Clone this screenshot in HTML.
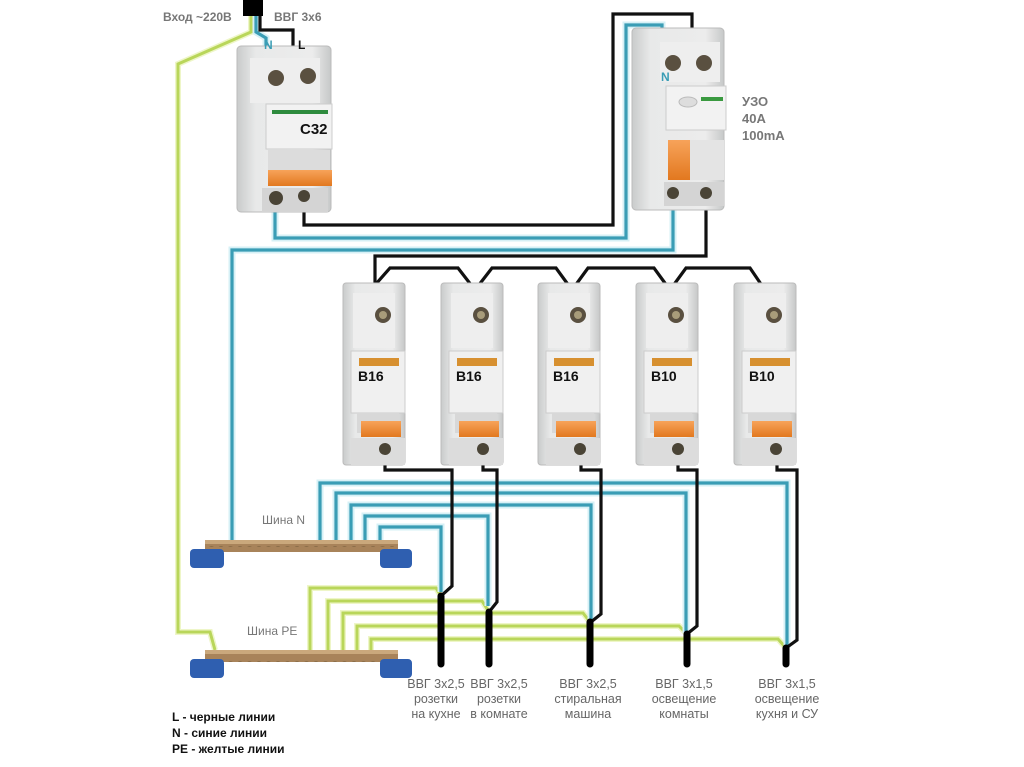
<!DOCTYPE html>
<html><head><meta charset="utf-8"><style>
body{margin:0;background:#fff}
svg{display:block}
text{font-family:"Liberation Sans",sans-serif}
</style></head><body>
<svg width="1024" height="767" viewBox="0 0 1024 767" xmlns="http://www.w3.org/2000/svg">
<defs>
<linearGradient id="bd" x1="0" x2="1"><stop offset="0" stop-color="#c9cbcb"/><stop offset=".2" stop-color="#e8e9e9"/><stop offset=".8" stop-color="#ececec"/><stop offset="1" stop-color="#c6c8c8"/></linearGradient>
<linearGradient id="or" x1="0" y1="0" x2="0" y2="1"><stop offset="0" stop-color="#f7a35a"/><stop offset="1" stop-color="#e2781f"/></linearGradient>
<g id="brk">
<rect x="0" y="0" width="62" height="182" rx="3" fill="url(#bd)" stroke="#bbb"/>
<rect x="10" y="10" width="42" height="55" fill="#eeeeee"/>
<circle cx="40" cy="32" r="8" fill="#5a5040"/><circle cx="40" cy="32" r="4" fill="#a89c7a"/>
<rect x="8" y="68" width="54" height="62" fill="#f0f0f0" stroke="#ccc"/>
<rect x="16" y="75" width="40" height="8" fill="#d79030"/>
<rect x="14" y="130" width="42" height="20" fill="#d8d8d8"/>
<rect x="18" y="138" width="40" height="16" fill="url(#or)"/>
<rect x="8" y="155" width="54" height="27" fill="#dcdcdc"/>
<circle cx="42" cy="166" r="6" fill="#4a4436"/>
</g>
<pattern id="scr" x="207" y="0" width="9.5" height="20" patternUnits="userSpaceOnUse">
<circle cx="4.5" cy="4" r="3" fill="#8a6d48"/>
</pattern>
</defs>

<g fill="none" stroke-linejoin="miter">
<path d="M251 14 L251 32 L178 64 L178 632 L210 632 L215 650" stroke="#eef6c8" stroke-width="6"/>
<path d="M251 14 L251 32 L178 64 L178 632 L210 632 L215 650" stroke="#b9d65a" stroke-width="3"/>
<g stroke="#eef6c8" stroke-width="6">
<path d="M310 650 L310 588 L436 588 L441 596"/>
<path d="M328 650 L328 601 L482 601 L489 612"/>
<path d="M343 650 L343 613 L583 613 L590 622"/>
<path d="M357 650 L357 626 L679 626 L687 634"/>
<path d="M371 650 L371 639 L778 639 L786 648"/>
</g>
<g stroke="#b9d65a" stroke-width="3">
<path d="M310 650 L310 588 L436 588 L441 596"/>
<path d="M328 650 L328 601 L482 601 L489 612"/>
<path d="M343 650 L343 613 L583 613 L590 622"/>
<path d="M357 650 L357 626 L679 626 L687 634"/>
<path d="M371 650 L371 639 L778 639 L786 648"/>
</g>
<g stroke="#d6f0f6" stroke-width="7">
<path d="M256 14 L256 32 L266 38 L266 50"/>
<path d="M275 200 L275 238 L626 238 L626 25 L662 25 L662 45"/>
<path d="M673 195 L673 250 L232 250 L232 542"/>
<path d="M320 542 L320 483 L787 483 L787 648"/>
<path d="M336 542 L336 493 L686 493 L686 633"/>
<path d="M351 542 L351 505 L591 505 L591 620"/>
<path d="M365 542 L365 516 L488 516 L488 606"/>
<path d="M380 542 L380 527 L441 527 L441 592"/>
</g>
<g stroke="#3a9db5" stroke-width="3.2">
<path d="M256 14 L256 32 L266 38 L266 50"/>
<path d="M275 200 L275 238 L626 238 L626 25 L662 25 L662 45"/>
<path d="M673 195 L673 250 L232 250 L232 542"/>
<path d="M320 542 L320 483 L787 483 L787 648"/>
<path d="M336 542 L336 493 L686 493 L686 633"/>
<path d="M351 542 L351 505 L591 505 L591 620"/>
<path d="M365 542 L365 516 L488 516 L488 606"/>
<path d="M380 542 L380 527 L441 527 L441 592"/>
</g>
<g stroke="#111" stroke-width="3.2">
<path d="M260 14 L260 30 L293 30 L293 52"/>
<path d="M304 200 L304 225 L613 225 L613 14 L692 14 L692 40"/>
<path d="M706 195 L706 256 L375 256 L375 268 L375 285"/>
<path d="M375 285 L390 268 L458 268 L475 290 L492 268 L556 268 L572 290 L588 268 L654 268 L670 290 L686 268 L750 268 L765 290"/>
<path d="M385 460 L385 470 L452 470 L452 586 L441 596"/>
<path d="M483 460 L483 470 L497 470 L497 602 L489 612"/>
<path d="M581 460 L581 470 L601 470 L601 614 L591 622"/>
<path d="M678 460 L678 470 L697 470 L697 626 L687 634"/>
<path d="M777 460 L777 470 L797 470 L797 640 L786 648"/>
</g>
<g stroke="#000" stroke-width="7" stroke-linecap="round">
<path d="M441 596 L441 664"/><path d="M489 612 L489 664"/><path d="M590 622 L590 664"/><path d="M687 634 L687 664"/><path d="M786 648 L786 664"/>
</g>
</g>
<rect x="243" y="0" width="20" height="16" fill="#000"/>

<g>
<rect x="237" y="46" width="94" height="166" rx="4" fill="url(#bd)" stroke="#bbb"/>
<rect x="250" y="58" width="70" height="45" fill="#eee"/>
<circle cx="276" cy="78" r="8" fill="#5a5040"/><circle cx="308" cy="76" r="8" fill="#5a5040"/>
<rect x="266" y="104" width="66" height="45" fill="#f2f2f2" stroke="#ccc"/>
<rect x="272" y="110" width="56" height="4" fill="#2e8b3e"/>
<text x="300" y="134" font-size="15" font-weight="bold" fill="#111">C32</text>
<rect x="268" y="150" width="62" height="22" fill="#dcdcdc"/>
<rect x="268" y="170" width="64" height="16" fill="url(#or)"/>
<rect x="262" y="188" width="66" height="24" fill="#d4d4d4"/>
<circle cx="276" cy="198" r="7" fill="#4a4436"/><circle cx="304" cy="196" r="6" fill="#4a4436"/>
</g>
<g>
<rect x="632" y="28" width="92" height="182" rx="4" fill="url(#bd)" stroke="#bbb"/>
<rect x="660" y="42" width="60" height="40" fill="#eee"/>
<circle cx="673" cy="63" r="8" fill="#5a5040"/><circle cx="704" cy="63" r="8" fill="#5a5040"/>
<rect x="666" y="86" width="60" height="44" fill="#f2f2f2" stroke="#ccc"/>
<ellipse cx="688" cy="102" rx="9" ry="5" fill="#ddd" stroke="#bbb"/>
<rect x="701" y="97" width="22" height="4" fill="#3a9a40"/>
<rect x="668" y="140" width="22" height="40" fill="url(#or)"/>
<rect x="690" y="140" width="34" height="40" fill="#e4e4e4"/>
<rect x="664" y="182" width="60" height="24" fill="#d4d4d4"/>
<circle cx="673" cy="193" r="6" fill="#4a4436"/><circle cx="706" cy="193" r="6" fill="#4a4436"/>
</g>
<use href="#brk" x="343" y="283"/>
<use href="#brk" x="441" y="283"/>
<use href="#brk" x="538" y="283"/>
<use href="#brk" x="636" y="283"/>
<use href="#brk" x="734" y="283"/>
<g font-size="14" font-weight="bold" fill="#111">
<text x="358" y="381">B16</text><text x="456" y="381">B16</text><text x="553" y="381">B16</text><text x="651" y="381">B10</text><text x="749" y="381">B10</text>
</g>

<g>
<rect x="205" y="540" width="193" height="12" fill="#a8835a"/>
<rect x="205" y="540" width="193" height="4" fill="#caa87c"/>
<rect x="207" y="546" width="188" height="6" fill="url(#scr)"/>
<rect x="190" y="549" width="34" height="19" rx="4" fill="#2f5fb0"/>
<rect x="380" y="549" width="32" height="19" rx="4" fill="#2f5fb0"/>
<rect x="205" y="650" width="193" height="12" fill="#a8835a"/>
<rect x="205" y="650" width="193" height="4" fill="#caa87c"/>
<rect x="207" y="656" width="188" height="6" fill="url(#scr)"/>
<rect x="190" y="659" width="34" height="19" rx="4" fill="#2f5fb0"/>
<rect x="380" y="659" width="32" height="19" rx="4" fill="#2f5fb0"/>
</g>

<g font-size="12" font-weight="bold" fill="#777">
<text x="163" y="21">Вход ~220В</text>
<text x="274" y="21">ВВГ 3х6</text>
<text x="262" y="524" font-weight="normal">Шина N</text>
<text x="247" y="635" font-weight="normal">Шина PE</text>
<text x="742" y="106" font-size="13">УЗО</text>
<text x="742" y="123" font-size="13">40A</text>
<text x="742" y="140" font-size="13">100mA</text>
</g>
<text x="264" y="49" font-size="12" font-weight="bold" fill="#3a9db5">N</text>
<text x="298" y="49" font-size="12" font-weight="bold" fill="#111">L</text>
<text x="661" y="81" font-size="12" font-weight="bold" fill="#3a9db5">N</text>
<g font-size="12.5" fill="#666" text-anchor="middle">
<text x="436" y="688">ВВГ 3х2,5</text><text x="436" y="703">розетки</text><text x="436" y="718">на кухне</text>
<text x="499" y="688">ВВГ 3х2,5</text><text x="499" y="703">розетки</text><text x="499" y="718">в комнате</text>
<text x="588" y="688">ВВГ 3х2,5</text><text x="588" y="703">стиральная</text><text x="588" y="718">машина</text>
<text x="684" y="688">ВВГ 3х1,5</text><text x="684" y="703">освещение</text><text x="684" y="718">комнаты</text>
<text x="787" y="688">ВВГ 3х1,5</text><text x="787" y="703">освещение</text><text x="787" y="718">кухня и СУ</text>
</g>
<g font-size="12" font-weight="bold" fill="#111">
<text x="172" y="721">L - черные линии</text>
<text x="172" y="737">N - синие линии</text>
<text x="172" y="753">PE - желтые линии</text>
</g>
</svg>
</body></html>
